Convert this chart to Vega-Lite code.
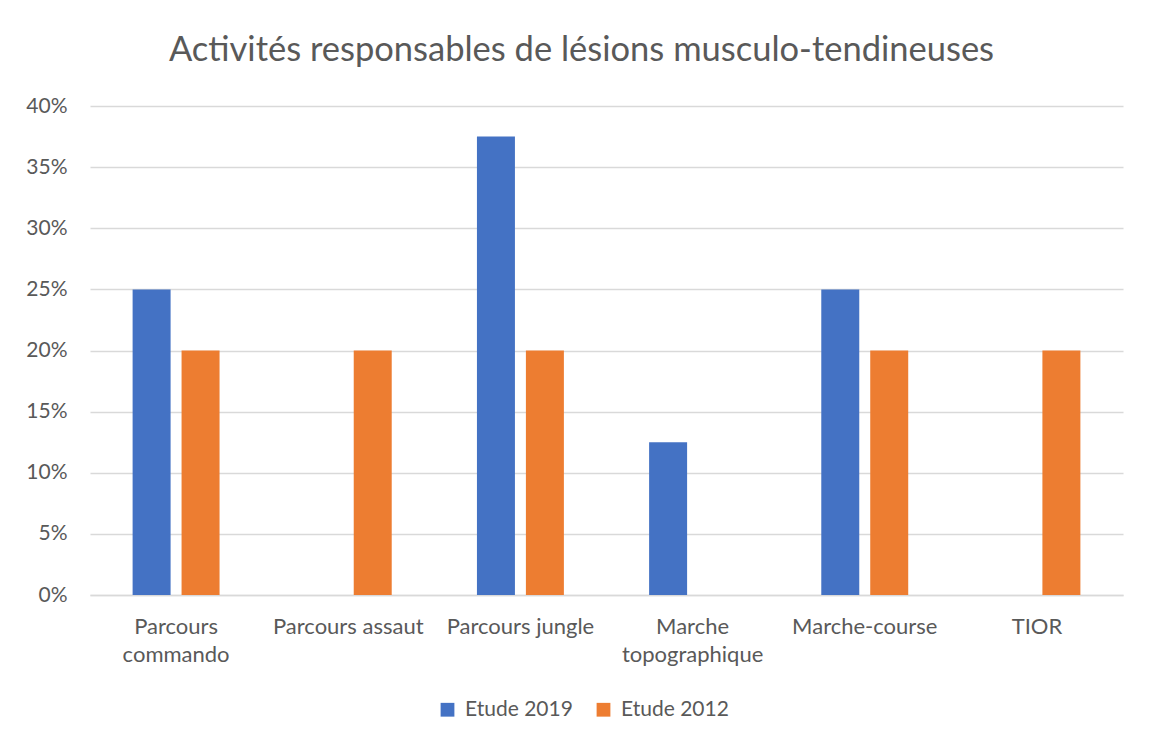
{
  "$schema": "https://vega.github.io/schema/vega-lite/v6.json",
  "width": 1033,
  "height": 489,
  "autosize": {"type": "none"},
  "padding": {"left": 90, "top": 106, "right": 27, "bottom": 148},
  "background": "white",
  "title": {
    "text": "Activités responsables de lésions musculo-tendineuses",
    "font": "Lato",
    "fontSize": 34.5,
    "fontWeight": "normal",
    "color": "#595959",
    "anchor": "middle",
    "baseline": "bottom",
    "offset": 36,
    "dx": -25,
    "dy": 43
  },
  "data": {
    "values": [
      {"activite": "Parcours commando", "etude": "Etude 2019", "valeur": 0.25},
      {"activite": "Parcours commando", "etude": "Etude 2012", "valeur": 0.20},
      {"activite": "Parcours assaut", "etude": "Etude 2019", "valeur": 0},
      {"activite": "Parcours assaut", "etude": "Etude 2012", "valeur": 0.20},
      {"activite": "Parcours jungle", "etude": "Etude 2019", "valeur": 0.375},
      {"activite": "Parcours jungle", "etude": "Etude 2012", "valeur": 0.20},
      {"activite": "Marche topographique", "etude": "Etude 2019", "valeur": 0.125},
      {"activite": "Marche topographique", "etude": "Etude 2012", "valeur": 0},
      {"activite": "Marche-course", "etude": "Etude 2019", "valeur": 0.25},
      {"activite": "Marche-course", "etude": "Etude 2012", "valeur": 0.20},
      {"activite": "TIOR", "etude": "Etude 2019", "valeur": 0},
      {"activite": "TIOR", "etude": "Etude 2012", "valeur": 0.20}
    ]
  },
  "mark": {"type": "bar"},
  "encoding": {
    "x": {
      "field": "activite",
      "type": "nominal",
      "sort": null,
      "title": null,
      "scale": {"paddingInner": 0.495, "paddingOuter": 0.2475},
      "axis": {
        "labelAngle": 0,
        "labelFont": "Lato",
        "labelFontSize": 22,
        "labelColor": "#595959",
        "labelPadding": 21,
        "labelLineHeight": 28,
        "labelExpr": "datum.value == 'Parcours commando' ? ['Parcours', 'commando'] : datum.value == 'Marche topographique' ? ['Marche', 'topographique'] : datum.value",
        "ticks": false,
        "domainColor": "#D9D9D9",
        "domainWidth": 1.5,
        "grid": false
      }
    },
    "xOffset": {
      "field": "etude",
      "type": "nominal",
      "sort": ["Etude 2019", "Etude 2012"],
      "scale": {"paddingInner": 0.224, "paddingOuter": 0}
    },
    "y": {
      "field": "valeur",
      "type": "quantitative",
      "title": null,
      "scale": {"domain": [0, 0.4], "nice": false},
      "axis": {
        "format": ".0%",
        "values": [0, 0.05, 0.1, 0.15, 0.2, 0.25, 0.3, 0.35, 0.4],
        "labelFont": "Lato",
        "labelFontSize": 21,
        "labelColor": "#595959",
        "labelPadding": 23,
        "ticks": false,
        "domain": false,
        "gridColor": "#D9D9D9",
        "gridWidth": 1.5
      }
    },
    "color": {
      "field": "etude",
      "type": "nominal",
      "sort": ["Etude 2019", "Etude 2012"],
      "scale": {"domain": ["Etude 2019", "Etude 2012"], "range": ["#4472C4", "#ED7D31"]},
      "legend": {
        "title": null,
        "orient": "none",
        "direction": "horizontal",
        "legendX": 347,
        "legendY": 593,
        "symbolType": "square",
        "symbolSize": 190,
        "symbolStrokeWidth": 0,
        "labelFont": "Lato",
        "labelFontSize": 21,
        "labelColor": "#595959",
        "labelOffset": 7,
        "columnPadding": 20,
        "padding": 0
      }
    }
  },
  "config": {
    "view": {"stroke": null}
  }
}
